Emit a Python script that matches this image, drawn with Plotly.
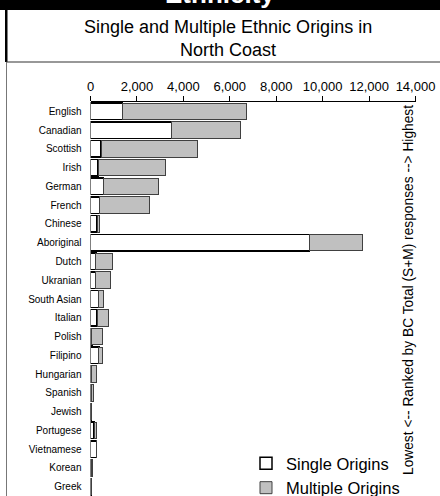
import plotly.graph_objects as go

categories = ["English", "Canadian", "Scottish", "Irish", "German", "French", "Chinese",
              "Aboriginal", "Dutch", "Ukranian", "South Asian", "Italian", "Polish",
              "Filipino", "Hungarian", "Spanish", "Jewish", "Portugese", "Vietnamese",
              "Korean", "Greek"]
single_origins = [1380, 3500, 460, 330, 550, 400, 290, 9430, 230, 230, 350, 290, 60,
                  360, 50, 40, 20, 160, 260, 50, 30]
total_origins = [6700, 6470, 4590, 3230, 2950, 2520, 370, 11720, 940, 840, 580, 790, 520,
                 530, 270, 140, 60, 250, 270, 70, 60]
multiple_origins = [t - s for t, s in zip(total_origins, single_origins)]
x_ticks = [0, 2000, 4000, 6000, 8000, 10000, 12000, 14000]

W, H = 440, 496
FONT = "Liberation Sans, Arial, sans-serif"

def px(x):
    return x / W

def py(y):
    return 1 - y / H

fig = go.Figure()
fig.add_trace(go.Bar(
    y=categories, x=single_origins, orientation="h", name="Single Origins",
    marker=dict(color="white", line=dict(color="black", width=1.5)),
))
fig.add_trace(go.Bar(
    y=categories, x=multiple_origins, orientation="h", name="Multiple Origins",
    marker=dict(color="#C0C0C0", line=dict(color="#404040", width=1)),
))

shapes = [
    dict(type="rect", xref="paper", yref="paper", x0=0, x1=1.01, y0=py(10), y1=1.01,
         fillcolor="black", line=dict(width=0), layer="below"),
    dict(type="rect", xref="paper", yref="paper", x0=px(5), x1=px(7.5), y0=py(62), y1=py(9),
         fillcolor="black", line=dict(width=0)),
    dict(type="line", xref="paper", yref="paper", x0=px(6), x1=1.01, y0=py(62), y1=py(62),
         line=dict(color="#333333", width=1.2)),
    dict(type="line", xref="paper", yref="paper", x0=px(6.5), x1=px(6.5), y0=-0.01, y1=py(62),
         line=dict(color="#777777", width=1)),
]

annotations = [
    dict(text="<b>Ethnicity</b>", xref="paper", yref="paper", x=0.5, y=py(-6),
         xanchor="center", yanchor="middle", showarrow=False,
         font=dict(family=FONT, size=26, color="white")),
    dict(text="Single and Multiple Ethnic Origins in<br>North Coast", xref="paper", yref="paper",
         x=px(228), y=py(39), xanchor="center", yanchor="middle", showarrow=False,
         font=dict(family=FONT, size=18, color="black")),
    dict(text="Lowest <-- Ranked by BC Total (S+M) responses --> Highest", xref="paper",
         yref="paper", x=px(408), y=py(290), xanchor="center", yanchor="middle",
         textangle=-90, showarrow=False, font=dict(family=FONT, size=13.75, color="black")),
]

fig.update_layout(
    width=W, height=H, margin=dict(l=0, r=0, t=0, b=0, autoexpand=False),
    paper_bgcolor="white", plot_bgcolor="white",
    barmode="stack", bargap=0.12,
    font=dict(family=FONT, color="black"),
    shapes=shapes, annotations=annotations,
    xaxis=dict(domain=[px(90.5), px(415.5)], range=[0, 14000], side="top",
               tickvals=x_ticks, tickformat=",", showgrid=False, zeroline=False,
               showline=True, linecolor="black", linewidth=1, automargin=False,
               ticks="outside", ticklen=5, tickcolor="black",
               tickfont=dict(family=FONT, size=13, color="black")),
    yaxis=dict(domain=[0, py(102)], categoryorder="array", categoryarray=categories,
               autorange="reversed", showgrid=False, zeroline=False, showline=False,
               ticks="", ticklabelstandoff=8, automargin=False,
               tickfont=dict(family=FONT, size=10, color="black")),
    legend=dict(x=px(246), y=py(446), xanchor="left", yanchor="top",
                font=dict(family=FONT, size=16.5, color="black"),
                bgcolor="rgba(0,0,0,0)", traceorder="normal", tracegroupgap=0,
                itemwidth=30),
    showlegend=True,
)

fig.write_html("out.html", config={"displayModeBar": False},
               post_script="document.body.style.margin='0';document.body.style.padding='0';"
                           "document.documentElement.style.overflow='hidden';")
